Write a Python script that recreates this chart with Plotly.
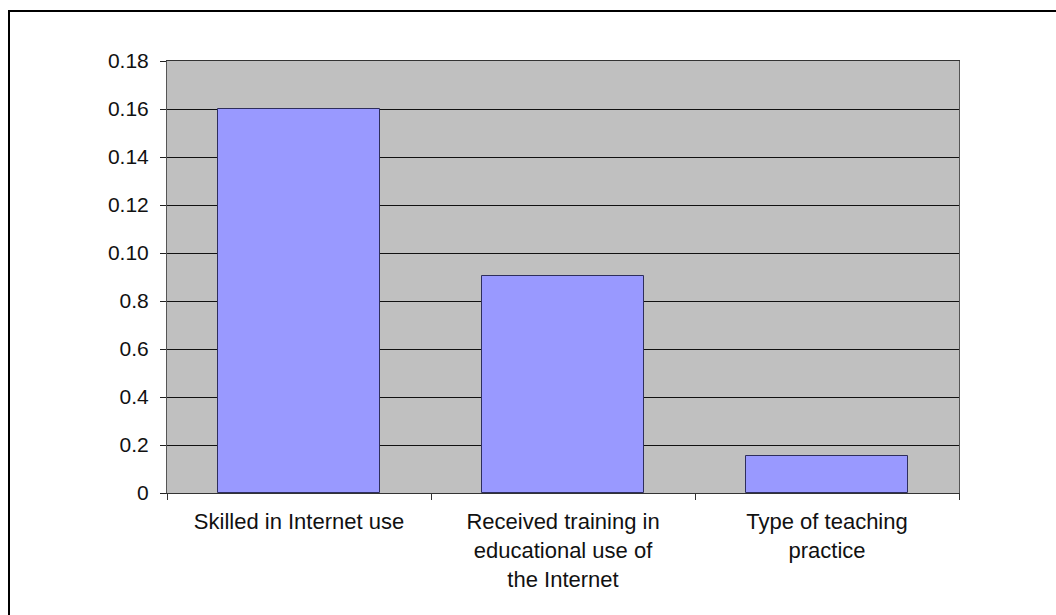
import plotly.graph_objects as go

# Categories and values
categories = [
    "Skilled in Internet use",
    "Received training in<br>educational use of<br>the Internet",
    "Type of teaching<br>practice",
]
values = [0.160, 0.0905, 0.0155]

# Y axis ticks (labels as printed on the chart)
tick_values = [0, 0.02, 0.04, 0.06, 0.08, 0.10, 0.12, 0.14, 0.16, 0.18]
tick_labels = ["0", "0.2", "0.4", "0.6", "0.8", "0.10", "0.12", "0.14", "0.16", "0.18"]

W, H = 1056, 615
L, R, T, B = 167, 97, 61, 122
plot_w = W - L - R
plot_h = H - T - B

fig = go.Figure(
    go.Bar(
        x=categories,
        y=values,
        width=0.614,
        marker=dict(color="#9999FF", line=dict(color="#2E2E5C", width=1)),
    )
)

font = dict(family="Liberation Sans, Arial, sans-serif", size=21, color="#111111")
xfont = dict(family="Liberation Sans, Arial, sans-serif", size=22, color="#111111")

fig.update_layout(
    width=W,
    height=H,
    margin=dict(l=L, r=R, t=T, b=B),
    paper_bgcolor="white",
    plot_bgcolor="#C0C0C0",
    font=font,
    showlegend=False,
    bargap=0,
)

fig.update_xaxes(
    type="category",
    tickson="boundaries",
    ticks="outside",
    ticklen=6,
    tickcolor="#333333",
    showgrid=False,
    showline=True,
    linecolor="#333333",
    linewidth=1,
    mirror=True,
    tickfont=xfont,
    ticklabelstandoff=9,
)

fig.update_yaxes(
    range=[0, 0.18],
    tickvals=tick_values,
    ticktext=tick_labels,
    ticks="outside",
    ticklen=6,
    tickcolor="#222222",
    showgrid=True,
    gridcolor="#111111",
    gridwidth=1,
    showline=True,
    linecolor="#555555",
    linewidth=1,
    mirror=True,
    zeroline=False,
    tickfont=font,
    ticklabelstandoff=7,
)

# Outer frame (left and top edges)
def px_x(p):
    return (p - L) / plot_w

def px_y(p):
    return (H - B - p) / plot_h

fig.add_shape(type="line", xref="paper", yref="paper",
              x0=px_x(9), x1=px_x(9), y0=px_y(11), y1=px_y(H + 2),
              line=dict(color="black", width=2))
fig.add_shape(type="line", xref="paper", yref="paper",
              x0=px_x(8), x1=px_x(W + 2), y0=px_y(11), y1=px_y(11),
              line=dict(color="black", width=2))

fig.write_html("out.html")
